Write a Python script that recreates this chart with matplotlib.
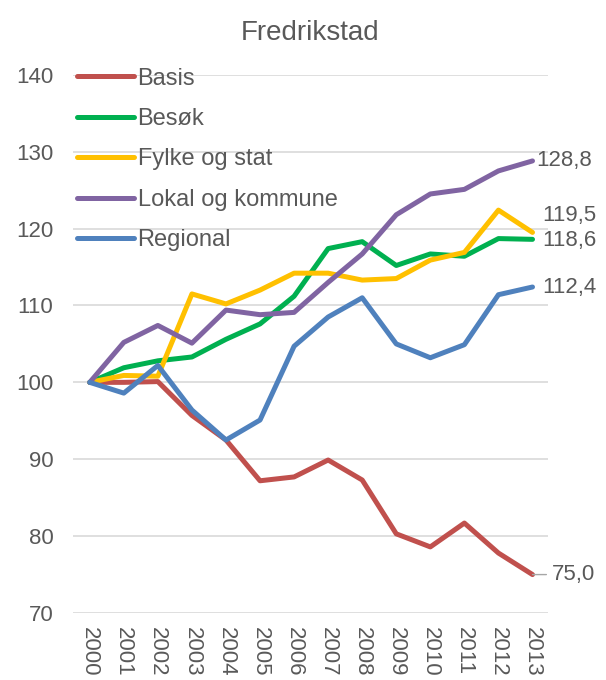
import matplotlib.pyplot as plt

plt.rcParams['font.family'] = ['Liberation Sans', 'DejaVu Sans']

years = [str(y) for y in range(2000, 2014)]
basis = [100.0, 100.0, 100.1, 95.7, 92.5, 87.2, 87.7, 89.9, 87.3, 80.3, 78.6, 81.7, 77.8, 75.0]
besok = [100.0, 101.9, 102.8, 103.3, 105.6, 107.6, 111.2, 117.4, 118.3, 115.2, 116.7, 116.4, 118.7, 118.6]
fylke = [100.0, 100.9, 100.8, 111.5, 110.2, 112.0, 114.2, 114.2, 113.3, 113.5, 115.9, 116.9, 122.4, 119.5]
lokal = [100.0, 105.2, 107.4, 105.1, 109.4, 108.8, 109.1, 113.0, 116.7, 121.8, 124.5, 125.1, 127.5, 128.8]
regional = [100.0, 98.6, 102.2, 96.4, 92.5, 95.1, 104.7, 108.5, 111.0, 105.0, 103.2, 104.9, 111.4, 112.4]

series = [
    ('Basis', basis, '#C0504D'),
    ('Besøk', besok, '#00B050'),
    ('Fylke og stat', fylke, '#FFC000'),
    ('Lokal og kommune', lokal, '#8064A2'),
    ('Regional', regional, '#4F81BD'),
]

txt = '#595959'
fig = plt.figure(figsize=(6.06, 6.8), dpi=100)
ax = fig.add_axes([0.12, 0.0985, 0.784, 0.7915])

x = list(range(len(years)))
for name, vals, col in series:
    ax.plot(x, vals, color=col, lw=3.6, label=name, solid_capstyle='round',
            solid_joinstyle='round')

ax.set_ylim(70, 140)
ax.set_xlim(-0.5, 13.45)
ax.set_yticks(range(70, 141, 10))
ax.set_xticks(x)
ax.set_xticklabels(years, rotation=270)
ax.grid(axis='y', color='#D9D9D9', lw=1.2)
ax.set_axisbelow(True)
for s in ax.spines.values():
    s.set_visible(False)
ax.tick_params(length=0, labelsize=16, labelcolor=txt)
ax.tick_params(axis='y', pad=14)
ax.tick_params(axis='x', pad=10)

ax.set_title('Fredrikstad', fontsize=20, color=txt, pad=25)

# end labels
lab = dict(textcoords='offset points', va='center', ha='left',
           fontsize=16, color=txt, annotation_clip=False)
ax.annotate('128,8', (13, lokal[-1]), xytext=(3, 0), **lab)
ax.annotate('119,5', (13, fylke[-1]), xytext=(7, 12), **lab)
ax.annotate('118,6', (13, besok[-1]), xytext=(7, -1), **lab)
ax.annotate('112,4', (13, regional[-1]), xytext=(7, 0), **lab)
ax.annotate('75,0', (13, basis[-1]), xytext=(14, 0),
            arrowprops=dict(arrowstyle='-', color='#A6A6A6', lw=1,
                            shrinkA=2, shrinkB=0), **lab)

leg = ax.legend(loc='upper left', bbox_to_anchor=(-0.01, 1.031), frameon=False,
                fontsize=17, handlelength=2.4, handletextpad=0.15,
                labelspacing=0.78, borderaxespad=0)
for t in leg.get_texts():
    t.set_color(txt)

fig.savefig('out.png', dpi=100)
